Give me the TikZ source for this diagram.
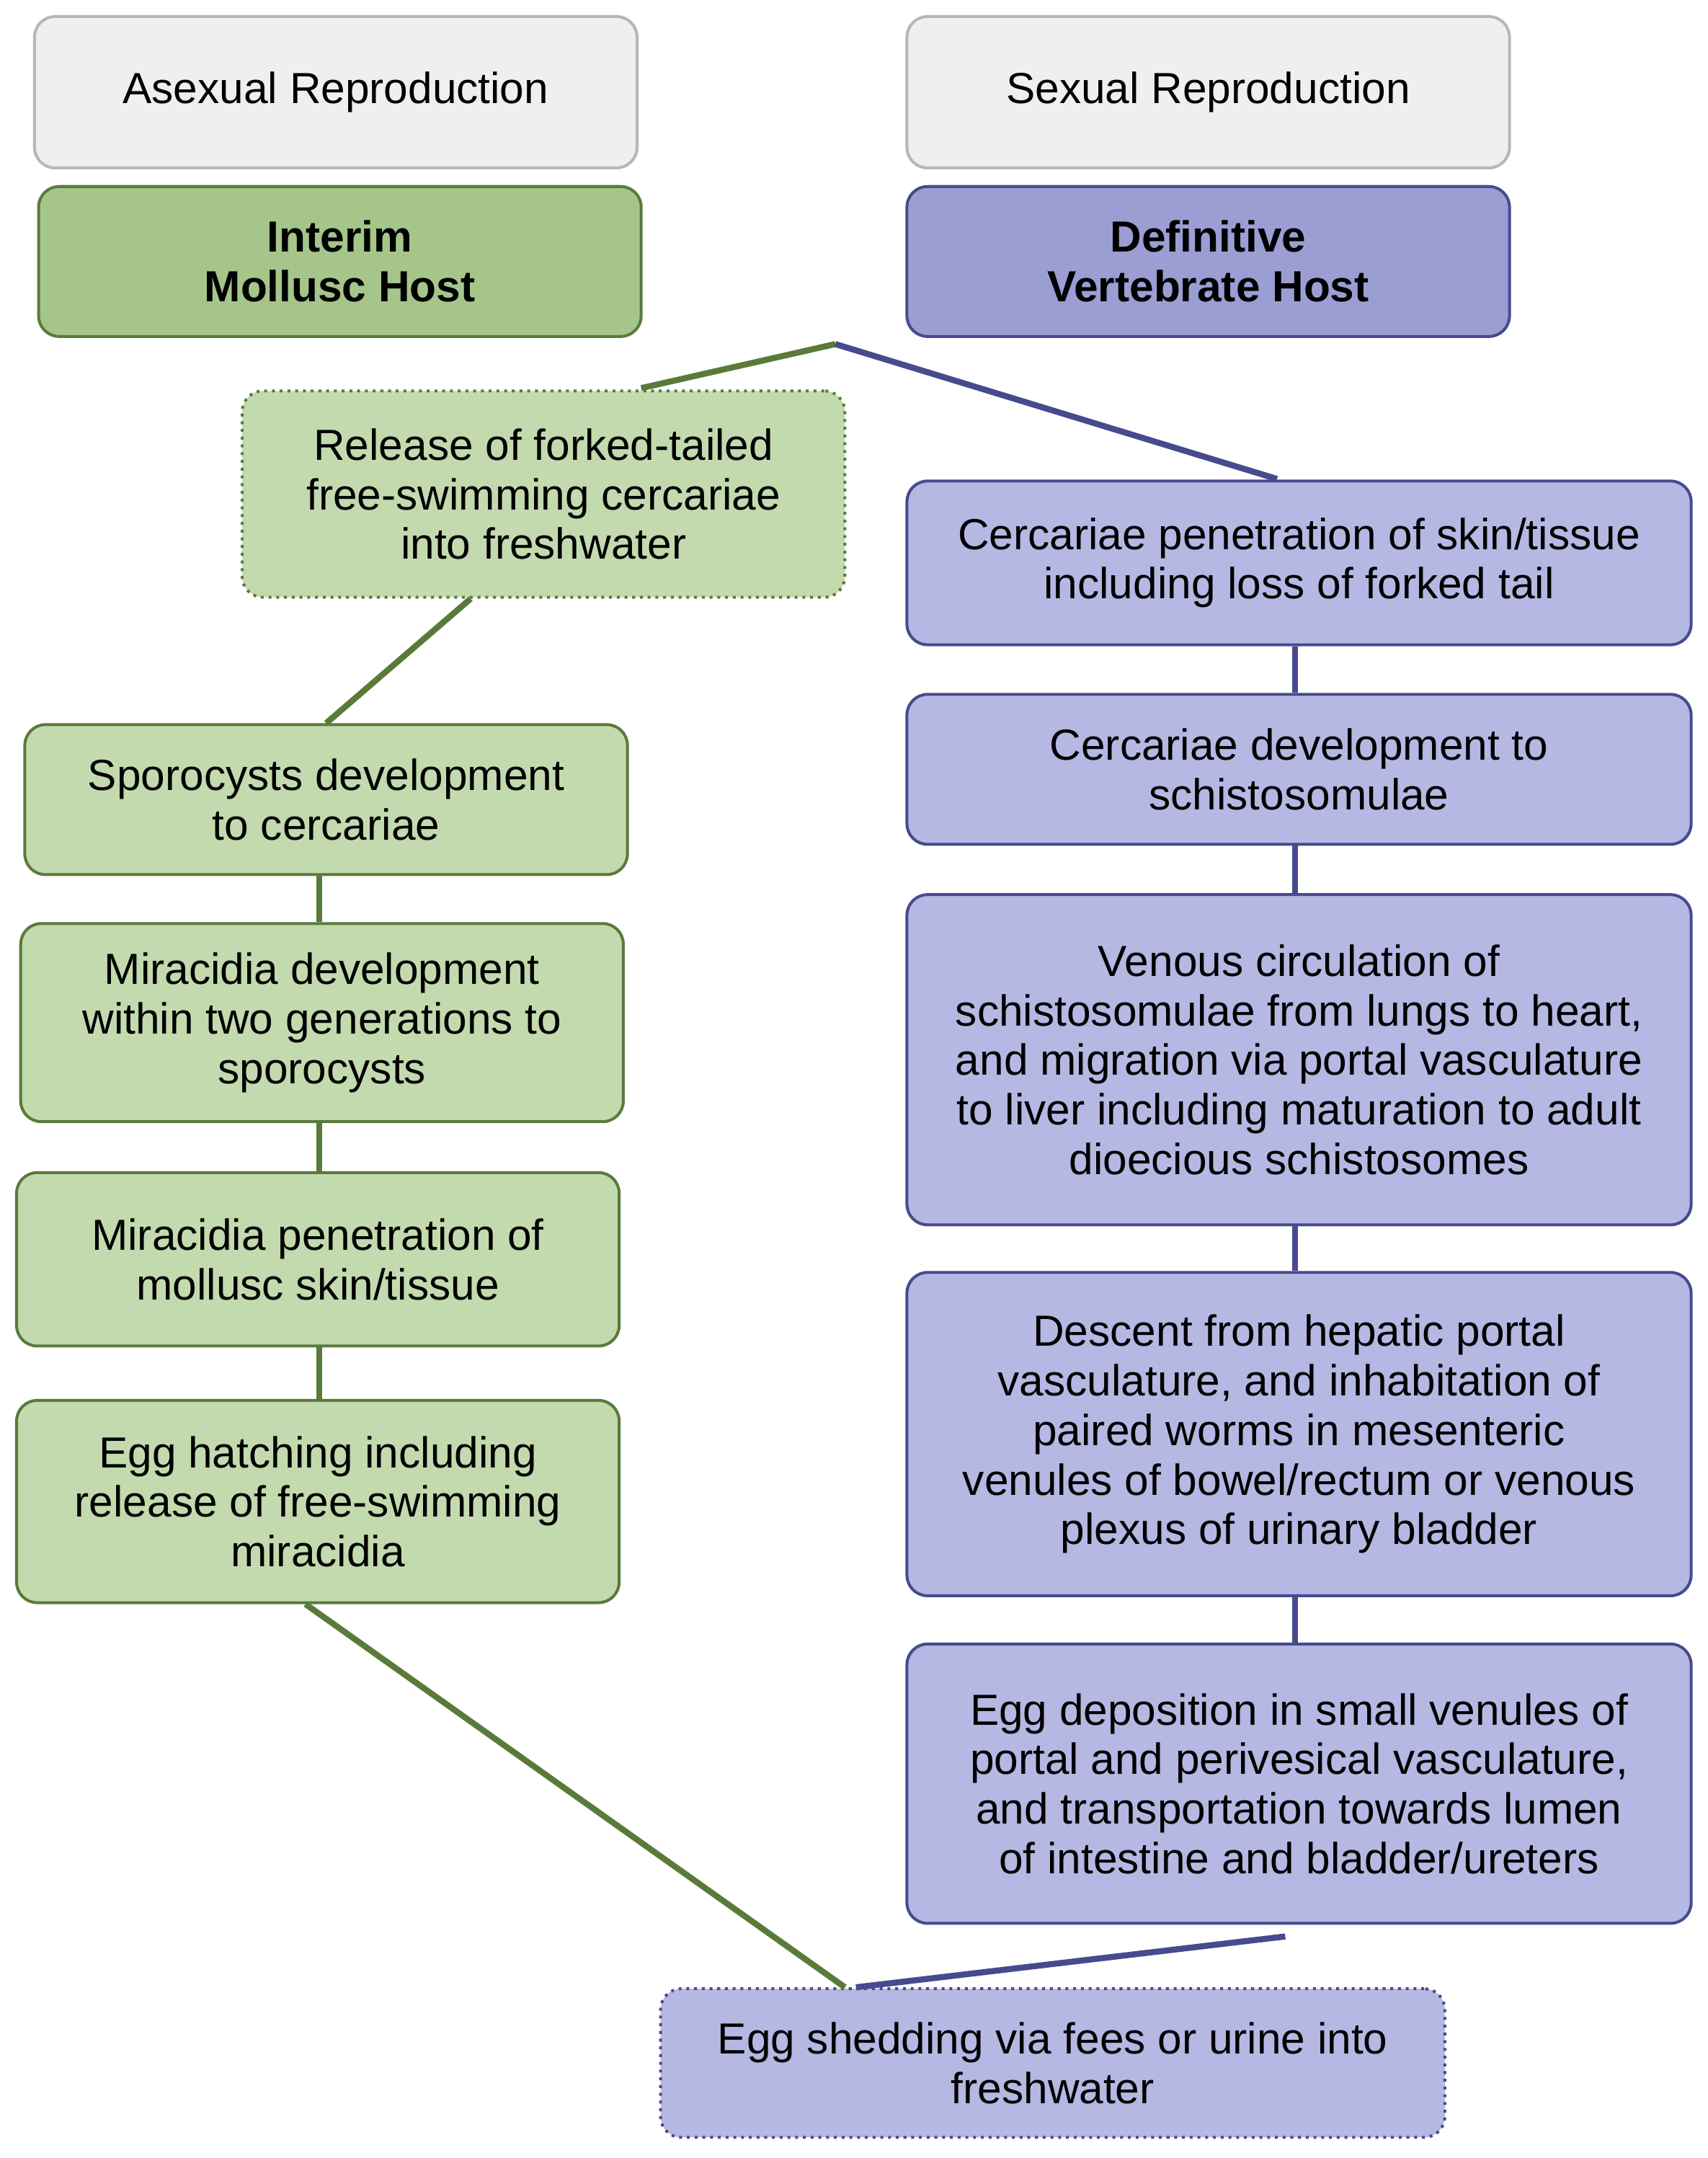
\documentclass[tikz,border=0pt]{standalone}
\usepackage{fontspec}
\setmainfont{Liberation Sans}
\definecolor{grayfill}{HTML}{EFEFEF}
\definecolor{grayline}{HTML}{B7B7B7}
\definecolor{hostgreen}{HTML}{A5C58A}
\definecolor{stepgreen}{HTML}{C3DAAF}
\definecolor{darkgreen}{HTML}{5A7A3A}
\definecolor{hostblue}{HTML}{9A9ED3}
\definecolor{stepblue}{HTML}{B5B8E2}
\definecolor{darkblue}{HTML}{464B8E}
\tikzset{
  box/.style={draw,rounded corners=0.3cm,line width=1.2pt,align=center,
    font=\fontsize{18}{20.5}\selectfont,inner sep=0pt},
  head/.style={box,fill=grayfill,draw=grayline},
  ghost/.style={box,fill=hostgreen,draw=darkgreen,font=\fontsize{18}{20.5}\selectfont\bfseries},
  bhost/.style={box,fill=hostblue,draw=darkblue,font=\fontsize{18}{20.5}\selectfont\bfseries},
  gstep/.style={box,fill=stepgreen,draw=darkgreen},
  bstep/.style={box,fill=stepblue,draw=darkblue},
  glink/.style={darkgreen,line width=2.5pt},
  blink/.style={darkblue,line width=2.5pt}
}
\begin{document}
\begin{tikzpicture}[x=0.02cm,y=-0.02cm]
  \useasboundingbox (0,0) rectangle (1241,1568);
  % headers
  \node[head,minimum width=8.76cm,minimum height=2.2cm] (asex) at (244,67) {Asexual Reproduction};
  \node[head,minimum width=8.76cm,minimum height=2.2cm] (sex) at (878,67) {Sexual Reproduction};
  \node[ghost,minimum width=8.76cm,minimum height=2.18cm] (interim) at (247,190) {Interim\\Mollusc Host};
  \node[bhost,minimum width=8.76cm,minimum height=2.18cm] (definitive) at (878,190) {Definitive\\Vertebrate Host};
  % left column
  \node[gstep,dotted,minimum width=8.76cm,minimum height=3cm] (release) at (395,359) {Release of forked-tailed\\free-swimming cercariae\\into freshwater};
  \node[gstep,minimum width=8.76cm,minimum height=2.18cm] (sporo) at (237,581) {Sporocysts development\\to cercariae};
  \node[gstep,minimum width=8.76cm,minimum height=2.88cm] (miradev) at (234,743) {Miracidia development\\within two generations to\\sporocysts};
  \node[gstep,minimum width=8.76cm,minimum height=2.52cm] (mirapen) at (231,915) {Miracidia penetration of\\mollusc skin/tissue};
  \node[gstep,minimum width=8.76cm,minimum height=2.94cm] (hatch) at (231,1091) {Egg hatching including\\release of free-swimming\\miracidia};
  % right column
  \node[bstep,minimum width=11.4cm,minimum height=2.38cm] (cerpen) at (944,409) {Cercariae penetration of skin/tissue\\including loss of forked tail};
  \node[bstep,minimum width=11.4cm,minimum height=2.18cm] (cerdev) at (944,559) {Cercariae development to\\schistosomulae};
  \node[bstep,minimum width=11.4cm,minimum height=4.8cm] (venous) at (944,770) {Venous circulation of\\schistosomulae from lungs to heart,\\and migration via portal vasculature\\to liver including maturation to adult\\dioecious schistosomes};
  \node[bstep,minimum width=11.4cm,minimum height=4.7cm] (descent) at (944,1042) {Descent from hepatic portal\\vasculature, and inhabitation of\\paired worms in mesenteric\\venules of bowel/rectum or venous\\plexus of urinary bladder};
  \node[bstep,minimum width=11.4cm,minimum height=4.06cm] (deposit) at (944,1296) {Egg deposition in small venules of\\portal and perivesical vasculature,\\and transportation towards lumen\\of intestine and bladder/ureters};
  \node[bstep,dotted,minimum width=11.4cm,minimum height=2.16cm] (shed) at (765,1499) {Egg shedding via fees or urine into\\freshwater};
  % connectors
  \coordinate (apex) at (607,250);
  \coordinate (gstart) at (466,282);
  \coordinate (bend) at (928,348);
  \coordinate (bstart) at (934,1407);
  \draw[glink] (gstart) -- (apex);
  \draw[blink] (apex) -- (bend);
  \draw[glink] (release.south) ++(-53,0) -- (sporo.north);
  \draw[glink] (sporo.south -| 232,0) -- (miradev.north -| 232,0);
  \draw[glink] (miradev.south -| 232,0) -- (mirapen.north -| 232,0);
  \draw[glink] (mirapen.south -| 232,0) -- (hatch.north -| 232,0);
  \draw[glink] (hatch.south -| 222,0) -- (shed.north -| 614,0);
  \draw[blink] (bstart) -- (shed.north -| 622,0);
  \draw[blink] (cerpen.south -| 941,0) -- (cerdev.north -| 941,0);
  \draw[blink] (cerdev.south -| 941,0) -- (venous.north -| 941,0);
  \draw[blink] (venous.south -| 941,0) -- (descent.north -| 941,0);
  \draw[blink] (descent.south -| 941,0) -- (deposit.north -| 941,0);
\end{tikzpicture}
\end{document}
